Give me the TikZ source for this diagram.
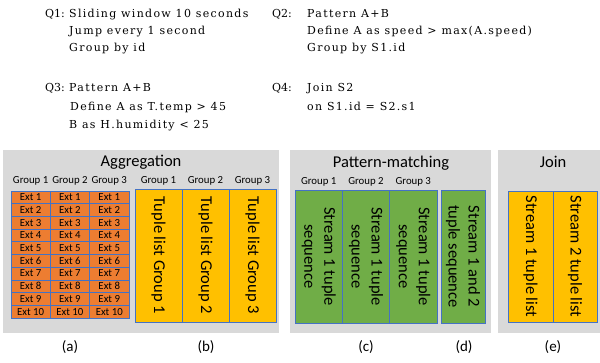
\documentclass[tikz,border=0pt]{standalone}
\usepackage{fontspec}
\setmainfont{Carlito}
\newfontfamily\queryfont[LetterSpace=12]{DejaVu Serif}
\newfontfamily\qtagfont{DejaVu Serif}
\usetikzlibrary{positioning}
\definecolor{panelgray}{HTML}{D9D9D9}
\definecolor{extorange}{HTML}{ED7D31}
\definecolor{listyellow}{HTML}{FFC000}
\definecolor{seqgreen}{HTML}{70AD47}
\definecolor{cellblue}{HTML}{4472C4}

\begin{document}
\begin{tikzpicture}[x=1pt, y=-1pt, font=\fontsize{10.5}{12}\selectfont,
    qtag/.style={anchor=base west, inner sep=0pt, font=\qtagfont\fontsize{11}{12}\selectfont},
    qline/.style={anchor=base west, inner sep=0pt, font=\queryfont\fontsize{11}{12}\selectfont},
    title/.style={inner sep=0pt, font=\fontsize{16.5}{18}\selectfont},
    grouplabel/.style={inner sep=0pt, font=\fontsize{10.8}{12}\selectfont},
    extcell/.style={draw=cellblue, line width=0.8pt, fill=extorange, inner sep=0pt,
                    minimum width=39.3pt, minimum height=12.7pt, font=\fontsize{10.8}{12}\selectfont},
    tall/.style={draw=cellblue, line width=0.8pt, inner sep=0pt, rotate=-90, align=center,
                 font=\fontsize{16.5}{20}\selectfont},
    caption/.style={inner sep=0pt, font=\fontsize{15}{18}\selectfont}]
        \useasboundingbox (0,0) rectangle (600,362);
        \node[qtag] (q1) at (45,17) {Q1:};
        \node[qline] (q1a) at (69,17) {Sliding window 10 seconds};
        \node[qline] (q1b) at (69,34) {Jump every 1 second};
        \node[qline] (q1c) at (69,51.5) {Group by id};
        \node[qtag] (q2) at (272,17) {Q2:};
        \node[qline] (q2a) at (307,17) {Pattern A+B};
        \node[qline] (q2b) at (307,34) {Define A as speed > max(A.speed)};
        \node[qline] (q2c) at (307,51.5) {Group by S1.id};
        \node[qtag] (q3) at (45,91.5) {Q3:};
        \node[qline] (q3a) at (69,91.5) {Pattern A+B};
        \node[qline] (q3b) at (70,110) {Define A as T.temp > 45};
        \node[qline] (q3c) at (69,128) {B as H.humidity < 25};
        \node[qtag] (q4) at (272,91.5) {Q4:};
        \node[qline] (q4a) at (307,91.5) {Join S2};
        \node[qline] (q4b) at (307,110) {on S1.id = S2.s1};
        \fill[panelgray] (3,150) rectangle (279,333);
        \fill[panelgray] (290,150) rectangle (491,333);
        \fill[panelgray] (498,150) rectangle (600,333);
        \node[title] (aggr) at (141,162) {Aggregation};
        \node[title] (patt) at (391,163) {Pattern-matching};
        \node[title] (join) at (553,162) {Join};
        \foreach \c/\cx in {1/30.65, 2/69.95, 3/109.25}{
          \node[grouplabel] (ga\c) at (\cx,181) {Group \c};
          \foreach \r in {1,...,10}
            \node[extcell] (ext\c-\r) at (\cx,{191+12.7*(\r-0.5)}) {Ext \r};
        }
        \foreach \i/\cx in {1/158.5, 2/205.5, 3/252.5}{
          \node[grouplabel] (gb\i) at (\cx,181) {Group \i};
          \node[tall, fill=listyellow, minimum width=133pt, minimum height=47pt] (list\i)
            at (\cx,255.5) {Tuple list Group \i};
        }
        \foreach \i/\cx in {1/318.7, 2/366, 3/413.3}{
          \node[grouplabel] (gc\i) at (\cx,182) {Group \i};
          \node[tall, fill=seqgreen, minimum width=133pt, minimum height=47.3pt] (seq\i)
            at (\cx,256.5) {Stream 1 tuple\\sequence};
        }
        \node[tall, fill=seqgreen, minimum width=133pt, minimum height=44pt] (seqboth)
          at (463,256.5) {Stream 1 and 2\\tuple sequence};
        \node[tall, fill=listyellow, minimum width=131pt, minimum height=45pt] (join1)
          at (530.5,256.5) {Stream 1 tuple list};
        \node[tall, fill=listyellow, minimum width=131pt, minimum height=44pt] (join2)
          at (575,256.5) {Stream 2 tuple list};
        \node[caption] (capa) at (70,347) {(a)};
        \node[caption] (capb) at (206,347) {(b)};
        \node[caption] (capc) at (366,347) {(c)};
        \node[caption] (capd) at (464,347) {(d)};
        \node[caption] (cape) at (553,347) {(e)};
      \end{tikzpicture}
\end{document}
